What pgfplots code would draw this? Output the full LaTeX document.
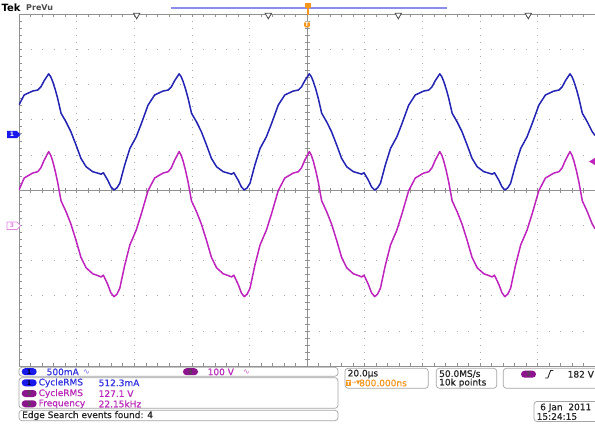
\documentclass[border=0pt]{standalone}
\usepackage{pgfplots}
\pgfplotsset{compat=1.18}
\usepackage{fontspec}
\setmainfont{DejaVu Sans}
\newfontfamily\scopefont{DejaVu Sans}[FakeBold=0.6]
\definecolor{tr1}{RGB}{35,35,180}
\definecolor{tr3}{RGB}{190,35,190}
\definecolor{tx1}{RGB}{50,50,225}
\definecolor{tx3}{RGB}{185,40,185}
\definecolor{bd1}{RGB}{25,25,235}
\definecolor{bd3}{RGB}{140,20,140}
\definecolor{tkorange}{RGB}{245,150,30}
\definecolor{gline}{RGB}{145,145,145}
\definecolor{gdot}{RGB}{170,170,170}
\definecolor{bxline}{RGB}{165,165,165}
\definecolor{pink3}{RGB}{225,130,225}
\definecolor{recbar}{RGB}{140,140,235}
\newcommand\sz{\scopefont\fontsize{9}{10}\selectfont}
\newcommand\badge[4]{\node[fill=#1, rounded corners=3.5pt, minimum width=15pt, minimum height=7pt, inner sep=0pt, text=#2, font=\bfseries\fontsize{6.5}{6.5}\selectfont] at #3 {#4};}
\begin{document}
\begin{tikzpicture}
\useasboundingbox (0pt,0pt) rectangle (595pt,424pt);
\fill[white] (0pt,0pt) rectangle (595pt,424pt);
% ---------- graticule ----------
\begin{scope}[x=1pt,y=-1pt,yshift=424pt]
  \foreach \k in {1,2,3,4,6,7,8,9} {
    \draw[gdot, dash pattern=on 0.9pt off 6.14pt] (19+57.6*\k,14) -- (19+57.6*\k,366);
    \draw[gdot, dash pattern=on 0.9pt off 10.62pt] (19,14+35.2*\k) -- (595,14+35.2*\k);
  }
  \foreach \i in {0,...,50} {
    \draw[gline] (19+11.52*\i,14) -- ++(0,3);
    \draw[gline] (19+11.52*\i,366) -- ++(0,-3);
    \draw[gline] (19+11.52*\i,187.5) -- ++(0,5);
    \draw[gline] (19,14+7.04*\i) -- ++(3,0);
    \draw[gline] (304.5,14+7.04*\i) -- ++(5,0);
  }
  \draw[gline, line width=0.6pt] (19,14) -- (595,14);
  \draw[gline, line width=0.6pt] (19,14) -- (19,366);
  \draw[gline, line width=0.6pt] (19,366) -- (595,366);
  \draw[gline, line width=0.6pt] (19,190) -- (595,190);
  \draw[gline, line width=0.6pt] (307,14) -- (307,366);
\end{scope}
% ---------- traces ----------
\begin{axis}[at={(19pt,58pt)}, anchor=south west, scale only axis,
  width=576pt, height=352pt, xmin=-100, xmax=100, ymin=-5, ymax=5,
  axis line style={draw=none}, xtick=\empty, ytick=\empty, clip=true]
\addplot[tr1, line width=1.5pt, line join=round] coordinates {
(-100,2.42) (-98.2,2.70) (-95.3,2.81) (-93.5,2.84) (-92.4,2.93) (-91.3,3.10)
(-89.7,3.30) (-89.0,3.22) (-88.3,3.08) (-87.4,2.85) (-86.6,2.61) (-85.4,2.18) (-83.7,1.94) (-82.0,1.66) (-80.2,1.28) (-78.5,0.90) (-76.7,0.66) (-74.4,0.52) (-72.7,0.48) (-71.5,0.45) (-70.7,0.49) (-69.2,0.28) (-68.1,0.09)
(-67.0,0.00) (-66.0,0.06) (-65.0,0.19) (-63.3,0.71) (-61.5,1.18) (-59.3,1.51) (-57.5,1.89) (-55.2,2.41) (-52.9,2.70) (-50.0,2.81) (-48.2,2.84) (-47.1,2.93) (-46.0,3.10)
(-44.4,3.30) (-43.7,3.22) (-43.0,3.08) (-42.1,2.85) (-41.3,2.61) (-40.1,2.18) (-38.4,1.94) (-36.7,1.66) (-34.9,1.28) (-33.2,0.90) (-31.4,0.66) (-29.1,0.52) (-27.4,0.48) (-26.2,0.45) (-25.4,0.49) (-23.9,0.28) (-22.8,0.09)
(-21.8,0.00) (-20.8,0.06) (-19.8,0.19) (-18.1,0.71) (-16.3,1.18) (-14.1,1.51) (-12.3,1.89) (-10.0,2.41) (-7.7,2.70) (-4.8,2.81) (-3.0,2.84) (-1.9,2.93) (-0.8,3.10)
(0.8,3.30) (1.5,3.22) (2.2,3.08) (3.1,2.85) (3.9,2.61) (5.1,2.18) (6.8,1.94) (8.5,1.66) (10.3,1.28) (12.0,0.90) (13.8,0.66) (16.1,0.52) (17.8,0.48) (19.0,0.45) (19.8,0.49) (21.3,0.28) (22.4,0.09)
(23.5,0.00) (24.5,0.06) (25.5,0.19) (27.2,0.71) (29.0,1.18) (31.2,1.51) (33.0,1.89) (35.3,2.41) (37.6,2.70) (40.5,2.81) (42.3,2.84) (43.4,2.93) (44.5,3.10)
(46.1,3.30) (46.8,3.22) (47.5,3.08) (48.4,2.85) (49.2,2.61) (50.4,2.18) (52.1,1.94) (53.8,1.66) (55.6,1.28) (57.3,0.90) (59.1,0.66) (61.4,0.52) (63.1,0.48) (64.3,0.45) (65.1,0.49) (66.6,0.28) (67.7,0.09)
(68.7,0.00) (69.7,0.06) (70.7,0.19) (72.4,0.71) (74.2,1.18) (76.4,1.51) (78.2,1.89) (80.5,2.41) (82.8,2.70) (85.7,2.81) (87.5,2.84) (88.6,2.93) (89.7,3.10)
(91.3,3.30) (92.0,3.22) (92.7,3.08) (93.6,2.85) (94.4,2.61) (95.6,2.18) (97.3,1.94) (99.0,1.66) (100,1.55)
};
\addplot[tr3, line width=1.5pt, line join=round] coordinates {
(-100,0.00) (-98.2,0.34) (-95.3,0.48) (-93.5,0.52) (-92.4,0.63) (-91.3,0.84)
(-89.7,1.09) (-89.0,0.99) (-88.3,0.82) (-87.4,0.53) (-86.6,0.23) (-85.4,-0.31) (-83.7,-0.61) (-82.0,-0.96) (-80.2,-1.43) (-78.5,-1.91) (-76.7,-2.21) (-74.4,-2.38) (-72.7,-2.43) (-71.5,-2.47) (-70.7,-2.42) (-69.2,-2.68) (-68.1,-2.92)
(-67.0,-3.03) (-66.0,-2.96) (-65.0,-2.79) (-63.3,-2.14) (-61.5,-1.56) (-59.3,-1.14) (-57.5,-0.67) (-55.2,-0.02) (-52.9,0.34) (-50.0,0.48) (-48.2,0.52) (-47.1,0.63) (-46.0,0.84)
(-44.4,1.09) (-43.7,0.99) (-43.0,0.82) (-42.1,0.53) (-41.3,0.23) (-40.1,-0.31) (-38.4,-0.61) (-36.7,-0.96) (-34.9,-1.43) (-33.2,-1.91) (-31.4,-2.21) (-29.1,-2.38) (-27.4,-2.43) (-26.2,-2.47) (-25.4,-2.42) (-23.9,-2.68) (-22.8,-2.92)
(-21.8,-3.03) (-20.8,-2.96) (-19.8,-2.79) (-18.1,-2.14) (-16.3,-1.56) (-14.1,-1.14) (-12.3,-0.67) (-10.0,-0.02) (-7.7,0.34) (-4.8,0.48) (-3.0,0.52) (-1.9,0.63) (-0.8,0.84)
(0.8,1.09) (1.5,0.99) (2.2,0.82) (3.1,0.53) (3.9,0.23) (5.1,-0.31) (6.8,-0.61) (8.5,-0.96) (10.3,-1.43) (12.0,-1.91) (13.8,-2.21) (16.1,-2.38) (17.8,-2.43) (19.0,-2.47) (19.8,-2.42) (21.3,-2.68) (22.4,-2.92)
(23.5,-3.03) (24.5,-2.96) (25.5,-2.79) (27.2,-2.14) (29.0,-1.56) (31.2,-1.14) (33.0,-0.67) (35.3,-0.02) (37.6,0.34) (40.5,0.48) (42.3,0.52) (43.4,0.63) (44.5,0.84)
(46.1,1.09) (46.8,0.99) (47.5,0.82) (48.4,0.53) (49.2,0.23) (50.4,-0.31) (52.1,-0.61) (53.8,-0.96) (55.6,-1.43) (57.3,-1.91) (59.1,-2.21) (61.4,-2.38) (63.1,-2.43) (64.3,-2.47) (65.1,-2.42) (66.6,-2.68) (67.7,-2.92)
(68.7,-3.03) (69.7,-2.96) (70.7,-2.79) (72.4,-2.14) (74.2,-1.56) (76.4,-1.14) (78.2,-0.67) (80.5,-0.02) (82.8,0.34) (85.7,0.48) (87.5,0.52) (88.6,0.63) (89.7,0.84)
(91.3,1.09) (92.0,0.99) (92.7,0.82) (93.6,0.53) (94.4,0.23) (95.6,-0.31) (97.3,-0.61) (99.0,-0.96) (100,-1.10)
};
\end{axis}
% ---------- overlays ----------
\begin{scope}[x=1pt,y=-1pt,yshift=424pt]
  \node[anchor=west, inner sep=0pt, font=\bfseries\fontsize{10}{10}\selectfont] at (1.5,8) {Tek};
  \node[anchor=west, inner sep=0pt, text=black!70, font=\bfseries\fontsize{8}{9}\selectfont] at (26,8) {PreVu};
  \draw[recbar, line width=1.2pt] (171,8) -- (447,8);
  % trigger position markers
  \fill[tkorange] (304.5,3.5) rectangle (311,8.5);
  \fill[tkorange] (306.5,8.5) rectangle (309,15);
  \node[fill=tkorange, text=white, rounded corners=1.5pt, inner sep=0.8pt, font=\bfseries\fontsize{6}{6}\selectfont] at (307,24.5) {T};
  % edge search marks
  \foreach \xx in {136.7,268.3,398.3,528.3} {
    \draw[black!70, fill=white, line width=0.8pt] (\xx-3.2,13.2) -- (\xx+3.2,13.2) -- (\xx,18.8) -- cycle;
  }
  % channel ground markers
  \fill[bd1] (7,131) -- (17,131) -- (20.5,134.6) -- (17,138.2) -- (7,138.2) -- cycle;
  \node[text=white, inner sep=0pt, font=\bfseries\fontsize{6}{6}\selectfont] at (12,134.6) {1};
  \draw[pink3, fill=white, line width=0.7pt] (7,222) -- (17,222) -- (20.5,225.7) -- (17,229.4) -- (7,229.4) -- cycle;
  \node[text=pink3, inner sep=0pt, font=\bfseries\fontsize{6}{6}\selectfont] at (12,225.7) {3};
  % trigger level
  \fill[tr3] (589,161.5) -- (596,157.3) -- (596,165.7) -- cycle;
  % ----- bottom panels -----
  \draw[bxline, fill=white, rounded corners=3pt, line width=0.7pt] (19,367.3) rectangle (338,376.2);
  \draw[bxline, fill=white, rounded corners=3pt, line width=0.7pt] (19,377.7) rectangle (338,408.3);
  \draw[bxline, fill=white, rounded corners=3pt, line width=0.7pt] (19,410.3) rectangle (338,420.7);
  \draw[bxline, fill=white, rounded corners=3pt, line width=0.7pt] (345,368.3) rectangle (428.3,388.3);
  \draw[bxline, fill=white, rounded corners=3pt, line width=0.7pt] (436.3,368.3) rectangle (496.7,388.3);
  \draw[bxline, fill=white, rounded corners=3pt, line width=0.7pt] (503.3,368.3) rectangle (602,388.3);
  \draw[bxline, fill=white, rounded corners=3pt, line width=0.7pt] (534,401.5) rectangle (602,421.5);
  % row 1
  \badge{bd1}{black!80!blue}{(29.2,371.7)}{1}
  \node[anchor=west, inner sep=0pt, text=tx1, font=\sz] at (46.5,371.9) {500mA};
  \node[anchor=west, inner sep=0pt, text=tx1!70, font=\fontsize{8}{8}\selectfont] at (83,371.9) {∿};
  \badge{bd3}{black!70}{(190.5,371.7)}{3}
  \node[anchor=west, inner sep=0pt, text=tx3, font=\sz] at (207.5,371.9) {100 V};
  \node[anchor=west, inner sep=0pt, text=tx3!70, font=\fontsize{8}{8}\selectfont] at (243,371.9) {∿};
  % measurements
  \badge{bd1}{black!80!blue}{(29.2,382.8)}{1}
  \node[anchor=west, inner sep=0pt, text=tx1, font=\sz] at (38.5,382.9) {CycleRMS};
  \node[anchor=west, inner sep=0pt, text=tx1, font=\sz] at (98.5,382.9) {512.3mA};
  \badge{bd3}{black!70}{(29.2,393.5)}{3}
  \node[anchor=west, inner sep=0pt, text=tx3, font=\sz] at (38.5,393.6) {CycleRMS};
  \node[anchor=west, inner sep=0pt, text=tx3, font=\sz] at (98.5,393.6) {127.1 V};
  \badge{bd3}{black!70}{(29.2,403.8)}{3}
  \node[anchor=west, inner sep=0pt, text=tx3, font=\sz] at (38.5,403.9) {Frequency};
  \node[anchor=west, inner sep=0pt, text=tx3, font=\sz] at (98.5,403.9) {22.15kHz};
  \node[anchor=west, inner sep=0pt, text=black!85, font=\sz] at (22,415.6) {Edge Search events found: 4};
  % timebase
  \node[anchor=west, inner sep=0pt, text=black!85, font=\sz] at (347.5,374) {20.0µs};
  \node[fill=tkorange, text=white, inner sep=0.6pt, font=\bfseries\fontsize{5.5}{5.5}\selectfont] at (348.5,383) {T};
  \node[anchor=west, inner sep=0pt, text=tkorange, font=\fontsize{5.5}{6}\selectfont] at (351.3,383) {→▼};
  \node[anchor=west, inner sep=0pt, text=tkorange, font=\sz] at (359,383) {800.000ns};
  \node[anchor=west, inner sep=0pt, text=black!85, font=\sz] at (439,374) {50.0MS/s};
  \node[anchor=west, inner sep=0pt, text=black!85, font=\sz] at (439,383) {10k points};
  \badge{bd3}{black!70}{(528.5,374.2)}{3}
  \draw[black!85, line width=0.9pt] (545,378) -- (547.8,378) -- (550.6,370.5) -- (553.4,370.5);
  \node[anchor=west, inner sep=0pt, text=black!85, font=\sz] at (567.5,374.3) {182 V};
  \node[anchor=west, inner sep=0pt, text=black!85, font=\sz] at (540,407.8) {6 Jan\ \ 2011};
  \node[anchor=west, inner sep=0pt, text=black!85, font=\sz] at (536.5,416.5) {15:24:15};
\end{scope}
\end{tikzpicture}
\end{document}
